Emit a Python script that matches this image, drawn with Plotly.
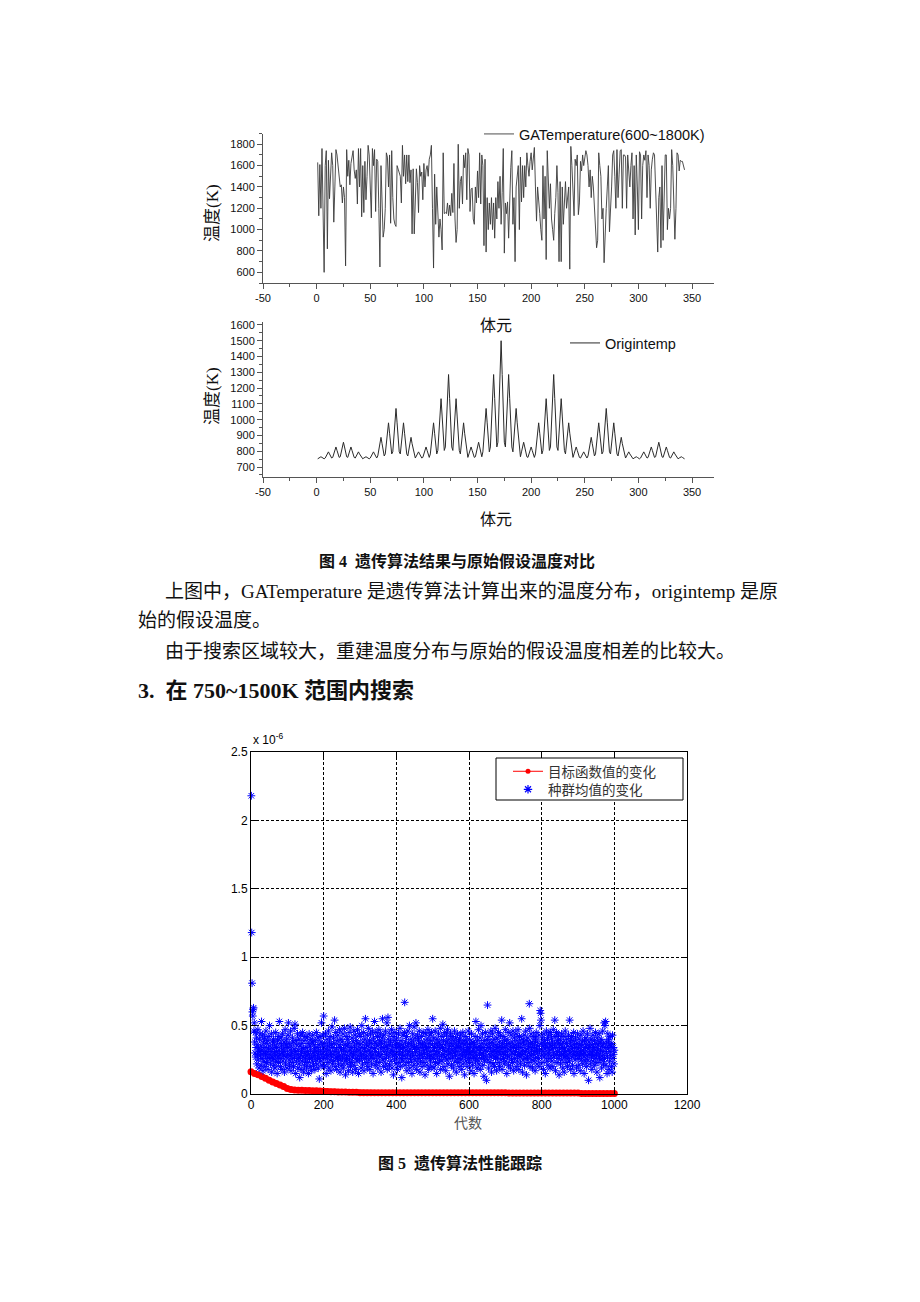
import plotly.graph_objects as go

W, H = 920, 1302

# ---------------- data: figure 4 (top) ----------------
GA_TEMP = [
    1630, 1130, 1610, 1200, 1760, 1250, 600, 1600, 1740, 820, 1650, 1290, 1500, 1720, 1600, 1070, 1400, 1750, 1700, 1600,
    1430, 1400, 1420, 1250, 1400, 1300, 660, 1750, 1500, 1650, 1420, 1620, 1680, 1740, 1560, 1480, 1560, 1240, 1760, 1400,
    1760, 1120, 1600, 1160, 1640, 1280, 1500, 1790, 1700, 1400, 1110, 1760, 1600, 1750, 1170, 1660, 1640, 1200, 650, 1600,
    1200, 930, 1000, 1200, 1720, 1680, 1400, 1700, 1060, 1740, 1300, 1100, 1050, 1030, 1600, 1560, 1540, 1500, 1250, 1790,
    1500, 1700, 1430, 1700, 1450, 1700, 1440, 1560, 960, 1570, 960, 1400, 1570, 1440, 1160, 1600, 1500, 1540, 1280, 1620,
    1400, 1560, 1600, 1500, 1660, 1700, 1790, 1200, 640, 1520, 1050, 1400, 1100, 930, 1100, 1000, 810, 1720, 1150, 1160,
    1150, 1250, 1130, 1230, 1130, 1340, 1160, 1620, 1100, 880, 1000, 1800, 1200, 1450, 1500, 1240, 1700, 1580, 1720, 1280,
    1760, 1700, 1170, 1380, 1390, 1100, 1050, 1400, 1250, 1550, 1300, 1720, 1240, 1700, 1600, 850, 1660, 790, 1300, 1000,
    1250, 1050, 1300, 1000, 1250, 920, 1300, 1100, 1450, 1200, 1500, 1050, 1350, 1760, 780, 1250, 1150, 1260, 920, 1400,
    1580, 1740, 1050, 1300, 700, 1400, 1500, 1600, 1000, 1680, 1260, 1600, 1300, 1600, 1400, 1720, 1600, 1500, 1640, 1720,
    1560, 1700, 1770, 1400, 1080, 1400, 1300, 1150, 1000, 900, 1600, 1100, 1500, 720, 1740, 1350, 1200, 1430, 1100, 1000,
    900, 1150, 1300, 1600, 1350, 700, 1450, 700, 1400, 1050, 1300, 1450, 1200, 1350, 1400, 630, 1780, 1600, 1300, 1130,
    1660, 1600, 1700, 1140, 1250, 1640, 1550, 1700, 1600, 1700, 1740, 1700, 1600, 1400, 1560, 1300, 1500, 1400, 1200, 1000,
    830, 900, 1720, 1600, 1500, 1100, 1200, 690, 1080, 1200, 1400, 1600, 980, 1300, 1400, 1700, 1740, 1500, 1200, 1750,
    1300, 1520, 1740, 1750, 1200, 1700, 1700, 1680, 1200, 1700, 1500, 1400, 1600, 1720, 1100, 1600, 950, 1700, 1400, 1000,
    1730, 1700, 1100, 1600, 1700, 1650, 1740, 1300, 1700, 1600, 1200, 1560, 1660, 1720, 1700, 1400, 1200, 790, 1300, 1400,
    830, 1600, 900, 1300, 1700, 1700, 1000, 1200, 1100, 1200, 1750, 1600, 1300, 910, 1200, 1720, 1700, 1550, 1650, 1640,
    1640, 1600, 1560,
]

# ---------------- data: figure 4 (bottom) ----------------
ORIGIN_TEMP = [
    752, 757, 761, 765, 761, 757, 752,
    757, 770, 783, 796, 783, 770, 757,
    761, 783, 805, 827, 805, 783, 761,
    765, 796, 827, 857, 827, 796, 765,
    761, 783, 805, 827, 805, 783, 761,
    757, 770, 783, 796, 783, 770, 757,
    752, 757, 761, 765, 761, 757, 752,

    757, 770, 783, 796, 783, 770, 757,
    770, 809, 848, 888, 848, 809, 770,
    783, 848, 914, 980, 914, 848, 783,
    796, 888, 980, 1071, 980, 888, 796,
    783, 848, 914, 980, 914, 848, 783,
    770, 809, 848, 888, 848, 809, 770,
    757, 770, 783, 796, 783, 770, 757,

    761, 783, 805, 827, 805, 783, 761,
    783, 848, 914, 980, 914, 848, 783,
    805, 914, 1023, 1133, 1023, 914, 805,
    827, 980, 1133, 1286, 1133, 980, 827,
    805, 914, 1023, 1133, 1023, 914, 805,
    783, 848, 914, 980, 914, 848, 783,
    761, 783, 805, 827, 805, 783, 761,

    765, 796, 827, 857, 827, 796, 765,
    796, 888, 980, 1071, 980, 888, 796,
    827, 980, 1133, 1286, 1133, 980, 827,
    857, 1071, 1286, 1500, 1286, 1071, 857,
    827, 980, 1133, 1286, 1133, 980, 827,
    796, 888, 980, 1071, 980, 888, 796,
    765, 796, 827, 857, 827, 796, 765,

    761, 783, 805, 827, 805, 783, 761,
    783, 848, 914, 980, 914, 848, 783,
    805, 914, 1023, 1133, 1023, 914, 805,
    827, 980, 1133, 1286, 1133, 980, 827,
    805, 914, 1023, 1133, 1023, 914, 805,
    783, 848, 914, 980, 914, 848, 783,
    761, 783, 805, 827, 805, 783, 761,

    757, 770, 783, 796, 783, 770, 757,
    770, 809, 848, 888, 848, 809, 770,
    783, 848, 914, 980, 914, 848, 783,
    796, 888, 980, 1071, 980, 888, 796,
    783, 848, 914, 980, 914, 848, 783,
    770, 809, 848, 888, 848, 809, 770,
    757, 770, 783, 796, 783, 770, 757,

    752, 757, 761, 765, 761, 757, 752,
    757, 770, 783, 796, 783, 770, 757,
    761, 783, 805, 827, 805, 783, 761,
    765, 796, 827, 857, 827, 796, 765,
    761, 783, 805, 827, 805, 783, 761,
    757, 770, 783, 796, 783, 770, 757,
    752, 757, 761, 765, 761, 757, 752,
]

VOXEL_TICKS = [-50, 0, 50, 100, 150, 200, 250, 300, 350]
VOXEL_TICK_LABELS = ["-50", "0", "50", "100", "150", "200", "250", "300", "350"]

# ---------------- data: figure 5 (x 10^-6) ----------------
OBJ_GEN = list(range(0, 1001, 10))
OBJ_VALUE = [
    0.163, 0.150, 0.140, 0.128, 0.115, 0.100, 0.088, 0.076, 0.066, 0.055,
    0.040, 0.033, 0.030, 0.028, 0.027, 0.026, 0.025, 0.024, 0.023, 0.022,
    0.021, 0.019, 0.017, 0.016, 0.015, 0.015, 0.014, 0.013, 0.013, 0.012,
    0.010, 0.010, 0.010, 0.010, 0.010, 0.010, 0.010, 0.010, 0.010, 0.010,
    0.010, 0.010, 0.010, 0.010, 0.010, 0.010, 0.010, 0.010, 0.010, 0.010,
    0.010, 0.009, 0.009, 0.009, 0.009, 0.009, 0.009, 0.009, 0.009, 0.009,
    0.009, 0.009, 0.009, 0.009, 0.009, 0.009, 0.009, 0.009, 0.009, 0.009,
    0.009, 0.008, 0.008, 0.008, 0.008, 0.008, 0.008, 0.008, 0.008, 0.008,
    0.008, 0.008, 0.008, 0.008, 0.008, 0.008, 0.008, 0.008, 0.008, 0.008,
    0.008, 0.004, 0.004, 0.004, 0.003, 0.003, 0.003, 0.003, 0.003, 0.003,
    0.003,
]

POP_GEN = list(range(1, 1001))
POP_MEAN = [
    2.18, 1.18, 0.81, 0.60, 0.57, 0.62, 0.63, 0.46, 0.52, 0.38, 0.30, 0.45, 0.27, 0.34, 0.41, 0.22, 0.36, 0.29, 0.47, 0.25, 0.33, 0.19, 0.40, 0.31, 0.44,
    0.28, 0.35, 0.21, 0.53, 0.32, 0.26, 0.43, 0.17, 0.38, 0.30, 0.24, 0.41, 0.34, 0.20, 0.29, 0.46, 0.37, 0.23, 0.31, 0.27, 0.39, 0.18, 0.33, 0.42, 0.26,
    0.50, 0.29, 0.35, 0.22, 0.31, 0.44, 0.16, 0.27, 0.38, 0.33, 0.25, 0.40, 0.21, 0.30, 0.36, 0.19, 0.28, 0.45, 0.24, 0.34, 0.31, 0.15, 0.39, 0.27, 0.42,
    0.23, 0.32, 0.53, 0.29, 0.37, 0.20, 0.26, 0.41, 0.35, 0.18, 0.30, 0.44, 0.24, 0.33, 0.28, 0.38, 0.16, 0.31, 0.47, 0.22, 0.36, 0.27, 0.40, 0.19, 0.34,
    0.29, 0.43, 0.52, 0.25, 0.37, 0.21, 0.32, 0.28, 0.46, 0.17, 0.35, 0.30, 0.23, 0.41, 0.26, 0.38, 0.20, 0.33, 0.48, 0.27, 0.51, 0.31, 0.15, 0.39, 0.24,
    0.36, 0.29, 0.44, 0.19, 0.32, 0.26, 0.40, 0.22, 0.12, 0.35, 0.28, 0.43, 0.18, 0.31, 0.37, 0.24, 0.45, 0.27, 0.33, 0.16, 0.39, 0.21, 0.30, 0.42, 0.25,
    0.34, 0.28, 0.19, 0.41, 0.31, 0.23, 0.37, 0.15, 0.29, 0.44, 0.26, 0.35, 0.20, 0.32, 0.40, 0.17, 0.27, 0.38, 0.24, 0.43, 0.30, 0.21, 0.36, 0.28, 0.33,
    0.18, 0.39, 0.25, 0.31, 0.45, 0.22, 0.34, 0.27, 0.41, 0.19, 0.30, 0.36, 0.11, 0.26, 0.42, 0.32, 0.24, 0.38, 0.52, 0.29, 0.21, 0.35, 0.43, 0.27, 0.57,
    0.31, 0.20, 0.37, 0.26, 0.44, 0.33, 0.15, 0.29, 0.40, 0.23, 0.35, 0.28, 0.46, 0.19, 0.32, 0.38, 0.25, 0.42, 0.30, 0.17, 0.36, 0.27, 0.49, 0.22, 0.34,
    0.29, 0.41, 0.24, 0.37, 0.54, 0.31, 0.20, 0.45, 0.27, 0.33, 0.18, 0.39, 0.26, 0.43, 0.30, 0.22, 0.36, 0.28, 0.47, 0.16, 0.34, 0.25, 0.40, 0.32, 0.21,
    0.38, 0.27, 0.44, 0.19, 0.33, 0.29, 0.48, 0.24, 0.36, 0.14, 0.31, 0.42, 0.26, 0.35, 0.22, 0.40, 0.28, 0.17, 0.37, 0.45, 0.25, 0.32, 0.49, 0.20, 0.30,
    0.34, 0.23, 0.41, 0.27, 0.16, 0.38, 0.29, 0.46, 0.21, 0.35, 0.31, 0.43, 0.18, 0.26, 0.39, 0.33, 0.24, 0.47, 0.28, 0.37, 0.15, 0.32, 0.44, 0.25, 0.36,
    0.30, 0.42, 0.19, 0.27, 0.50, 0.34, 0.22, 0.38, 0.29, 0.45, 0.17, 0.33, 0.26, 0.40, 0.55, 0.31, 0.23, 0.36, 0.28, 0.43, 0.20, 0.35, 0.48, 0.25, 0.32,
    0.39, 0.18, 0.30, 0.44, 0.27, 0.37, 0.22, 0.34, 0.46, 0.29, 0.15, 0.41, 0.26, 0.33, 0.53, 0.38, 0.21, 0.31, 0.45, 0.24, 0.36, 0.28, 0.42, 0.19, 0.35,
    0.30, 0.47, 0.23, 0.39, 0.27, 0.44, 0.33, 0.16, 0.37, 0.29, 0.41, 0.55, 0.25, 0.34, 0.20, 0.43, 0.31, 0.38, 0.26, 0.46, 0.22, 0.35, 0.29, 0.52, 0.18,
    0.33, 0.56, 0.40, 0.27, 0.36, 0.21, 0.44, 0.30, 0.38, 0.24, 0.32, 0.47, 0.19, 0.35, 0.28, 0.42, 0.14, 0.31, 0.39, 0.25, 0.45, 0.29, 0.36, 0.22, 0.34,
    0.41, 0.27, 0.18, 0.37, 0.31, 0.44, 0.23, 0.35, 0.29, 0.48, 0.20, 0.33, 0.39, 0.26, 0.12, 0.36, 0.30, 0.43, 0.24, 0.34, 0.28, 0.45, 0.67, 0.21, 0.38,
    0.32, 0.26, 0.42, 0.17, 0.35, 0.29, 0.46, 0.23, 0.37, 0.31, 0.50, 0.19, 0.33, 0.27, 0.40, 0.24, 0.36, 0.15, 0.30, 0.44, 0.28, 0.38, 0.21, 0.49, 0.34,
    0.25, 0.41, 0.31, 0.52, 0.18, 0.35, 0.28, 0.43, 0.22, 0.33, 0.39, 0.26, 0.46, 0.30, 0.16, 0.37, 0.24, 0.34, 0.42, 0.29, 0.20, 0.36, 0.27, 0.45, 0.32,
    0.23, 0.38, 0.30, 0.14, 0.35, 0.44, 0.26, 0.33, 0.40, 0.21, 0.29, 0.47, 0.34, 0.18, 0.37, 0.27, 0.43, 0.31, 0.24, 0.39, 0.28, 0.45, 0.20, 0.36, 0.55,
    0.32, 0.26, 0.41, 0.19, 0.34, 0.29, 0.46, 0.23, 0.37, 0.31, 0.15, 0.40, 0.27, 0.35, 0.22, 0.44, 0.30, 0.38, 0.25, 0.33, 0.48, 0.18, 0.36, 0.28, 0.42,
    0.24, 0.34, 0.51, 0.29, 0.39, 0.20, 0.32, 0.45, 0.27, 0.36, 0.17, 0.31, 0.43, 0.25, 0.38, 0.47, 0.22, 0.33, 0.29, 0.40, 0.13, 0.35, 0.26, 0.44, 0.30,
    0.37, 0.21, 0.32, 0.42, 0.27, 0.35, 0.19, 0.39, 0.30, 0.46, 0.24, 0.33, 0.28, 0.41, 0.16, 0.36, 0.31, 0.44, 0.23, 0.34, 0.38, 0.26, 0.20, 0.40, 0.29,
    0.35, 0.43, 0.25, 0.32, 0.18, 0.37, 0.28, 0.45, 0.22, 0.33, 0.39, 0.30, 0.14, 0.36, 0.27, 0.42, 0.24, 0.31, 0.38, 0.20, 0.34, 0.29, 0.46, 0.26, 0.32,
    0.40, 0.23, 0.35, 0.29, 0.17, 0.37, 0.44, 0.26, 0.31, 0.21, 0.38, 0.33, 0.27, 0.15, 0.36, 0.30, 0.42, 0.24, 0.53, 0.34, 0.28, 0.19, 0.39, 0.25, 0.32,
    0.47, 0.22, 0.35, 0.29, 0.41, 0.18, 0.33, 0.50, 0.26, 0.37, 0.30, 0.44, 0.21, 0.34, 0.28, 0.13, 0.39, 0.24, 0.32, 0.45, 0.27, 0.36, 0.10, 0.31, 0.40,
    0.65, 0.25, 0.34, 0.19, 0.42, 0.29, 0.37, 0.23, 0.33, 0.46, 0.27, 0.16, 0.38, 0.31, 0.44, 0.22, 0.35, 0.28, 0.40, 0.20, 0.32, 0.48, 0.26, 0.36, 0.30,
    0.17, 0.41, 0.27, 0.34, 0.23, 0.45, 0.31, 0.38, 0.20, 0.35, 0.29, 0.43, 0.25, 0.33, 0.54, 0.18, 0.37, 0.30, 0.42, 0.26, 0.34, 0.22, 0.39, 0.29, 0.47,
    0.31, 0.24, 0.36, 0.15, 0.40, 0.28, 0.33, 0.45, 0.21, 0.37, 0.27, 0.52, 0.32, 0.19, 0.35, 0.43, 0.25, 0.30, 0.38, 0.23, 0.46, 0.34, 0.17, 0.29, 0.41,
    0.26, 0.36, 0.31, 0.44, 0.20, 0.33, 0.39, 0.24, 0.28, 0.47, 0.35, 0.18, 0.30, 0.42, 0.27, 0.37, 0.22, 0.34, 0.29, 0.55, 0.40, 0.16, 0.32, 0.25, 0.38,
    0.43, 0.29, 0.21, 0.36, 0.31, 0.46, 0.26, 0.14, 0.39, 0.33, 0.27, 0.41, 0.23, 0.35, 0.30, 0.66, 0.48, 0.20, 0.37, 0.28, 0.44, 0.32, 0.25, 0.38, 0.19,
    0.34, 0.29, 0.42, 0.24, 0.36, 0.31, 0.17, 0.40, 0.27, 0.45, 0.33, 0.22, 0.38, 0.30, 0.35, 0.26, 0.43, 0.20, 0.32, 0.50, 0.61, 0.59, 0.54, 0.28, 0.37,
    0.23, 0.41, 0.31, 0.35, 0.18, 0.44, 0.27, 0.39, 0.33, 0.15, 0.36, 0.29, 0.46, 0.24, 0.34, 0.40, 0.21, 0.30, 0.43, 0.26, 0.37, 0.32, 0.19, 0.45, 0.28,
    0.35, 0.41, 0.24, 0.33, 0.38, 0.20, 0.47, 0.30, 0.27, 0.36, 0.54, 0.42, 0.17, 0.34, 0.29, 0.45, 0.23, 0.39, 0.31, 0.26, 0.43, 0.37, 0.14, 0.33, 0.28,
    0.40, 0.22, 0.36, 0.30, 0.44, 0.25, 0.34, 0.19, 0.38, 0.29, 0.42, 0.16, 0.33, 0.27, 0.46, 0.31, 0.23, 0.37, 0.28, 0.40, 0.20, 0.35, 0.26, 0.43, 0.32,
    0.24, 0.54, 0.30, 0.38, 0.18, 0.35, 0.42, 0.27, 0.33, 0.21, 0.39, 0.29, 0.45, 0.15, 0.36, 0.31, 0.25, 0.41, 0.28, 0.34, 0.19, 0.37, 0.30, 0.44, 0.26,
    0.33, 0.21, 0.40, 0.28, 0.36, 0.17, 0.31, 0.43, 0.25, 0.35, 0.29, 0.38, 0.22, 0.46, 0.32, 0.27, 0.15, 0.39, 0.30, 0.24, 0.34, 0.41, 0.20, 0.36, 0.28,
    0.44, 0.25, 0.33, 0.10, 0.38, 0.29, 0.35, 0.48, 0.22, 0.31, 0.40, 0.27, 0.18, 0.36, 0.30, 0.43, 0.24, 0.34, 0.28, 0.39, 0.21, 0.32, 0.45, 0.26, 0.37,
    0.29, 0.16, 0.41, 0.33, 0.23, 0.36, 0.30, 0.44, 0.27, 0.12, 0.38, 0.32, 0.25, 0.40, 0.19, 0.35, 0.28, 0.46, 0.31, 0.22, 0.37, 0.52, 0.26, 0.50, 0.34,
    0.53, 0.21, 0.30, 0.38, 0.15, 0.27, 0.44, 0.33, 0.40, 0.18, 0.36, 0.24, 0.31, 0.42, 0.28, 0.35, 0.20, 0.37, 0.16, 0.43, 0.26, 0.34, 0.29, 0.22, 0.32,
]

GEN_TICKS = [0, 200, 400, 600, 800, 1000, 1200]
GEN_TICK_LABELS = ["0", "200", "400", "600", "800", "1000", "1200"]
FIT_TICKS = [0, 0.5, 1, 1.5, 2, 2.5]
FIT_TICK_LABELS = ["0", "0.5", "1", "1.5", "2", "2.5"]

# ---------------- helpers ----------------
OFF = 8  # page offset of the plot div (default body margin)

def px(x):
    return (x - OFF) / W

def py(y):
    return 1 - (y - OFF) / H

SANS = "Liberation Sans, Arial, Noto Sans CJK SC"
SERIF = "Liberation Serif, Noto Sans CJK SC"
CJK = "Noto Sans CJK SC"
AX = "#555555"

fig = go.Figure()

voxel_ga = list(range(1, len(GA_TEMP) + 1))
voxel_or = list(range(1, len(ORIGIN_TEMP) + 1))

fig.add_trace(go.Scatter(
    x=voxel_ga, y=GA_TEMP, mode="lines", name="GATemperature(600~1800K)",
    line=dict(color="#3a3a3a", width=0.9), xaxis="x", yaxis="y", legend="legend"))

fig.add_trace(go.Scatter(
    x=voxel_or, y=ORIGIN_TEMP, mode="lines", name="Origintemp",
    line=dict(color="#2a2a2a", width=1), xaxis="x2", yaxis="y2", legend="legend2"))

# figure 5 data
fig.add_trace(go.Scatter(
    x=OBJ_GEN, y=OBJ_VALUE, mode="lines+markers", showlegend=False,
    line=dict(color="#ff0000", width=5), marker=dict(color="#ff0000", size=7),
    xaxis="x3", yaxis="y3", cliponaxis=False))
fig.add_trace(go.Scatter(
    x=POP_GEN, y=POP_MEAN, mode="markers", showlegend=False,
    marker=dict(symbol="asterisk-open", size=6.5, color="#0000ff",
                line=dict(color="#0000ff", width=1.0)),
    xaxis="x3", yaxis="y3", cliponaxis=False))
# legend entries for figure 5
fig.add_trace(go.Scatter(
    x=[None], y=[None], mode="lines+markers", name="目标函数值的变化",
    line=dict(color="#ff0000", width=1), marker=dict(color="#ff0000", size=5),
    xaxis="x3", yaxis="y3", legend="legend3"))
fig.add_trace(go.Scatter(
    x=[None], y=[None], mode="markers", name="种群均值的变化",
    marker=dict(symbol="asterisk-open", size=7, color="#0000ff",
                line=dict(color="#0000ff", width=1.2)),
    xaxis="x3", yaxis="y3", legend="legend4"))

origin_x = dict(
    range=[-50, 370], tickmode="array", tickvals=VOXEL_TICKS, ticktext=VOXEL_TICK_LABELS,
    showline=True, linecolor=AX, linewidth=1, ticks="outside", ticklen=5, tickcolor=AX,
    minor=dict(dtick=25, tick0=0, ticks="outside", ticklen=3, tickcolor=AX),
    showgrid=False, zeroline=False, tickfont=dict(family=SANS, size=11, color="#111"),
    domain=[px(263), px(713.5)], automargin=False,
)

legend_common = dict(xanchor="left", yanchor="top", bgcolor="rgba(0,0,0,0)", borderwidth=0)

layout = dict(
    width=W, height=H, margin=dict(l=0, r=0, t=0, b=0, pad=0, autoexpand=False),
    paper_bgcolor="white", plot_bgcolor="white", showlegend=True,
    xaxis=dict(origin_x, anchor="y"),
    yaxis=dict(
        range=[500, 1900], tick0=600, dtick=200, domain=[py(283), py(133.6)], anchor="x",
        showline=True, linecolor=AX, linewidth=1, ticks="outside", ticklen=5, tickcolor=AX,
        minor=dict(dtick=100, ticks="outside", ticklen=3, tickcolor=AX), automargin=False,
        showgrid=False, zeroline=False, tickfont=dict(family=SANS, size=11, color="#111")),
    xaxis2=dict(origin_x, anchor="y2"),
    yaxis2=dict(
        range=[640, 1620], tick0=0, dtick=100, domain=[py(476.5), py(321.8)], anchor="x2",
        showline=True, linecolor=AX, linewidth=1, ticks="outside", ticklen=5, tickcolor=AX,
        minor=dict(dtick=50, ticks="outside", ticklen=3, tickcolor=AX), automargin=False,
        showgrid=False, zeroline=False, tickfont=dict(family=SANS, size=11, color="#111")),
    xaxis3=dict(
        range=[0, 1200], tickmode="array", tickvals=GEN_TICKS, ticktext=GEN_TICK_LABELS,
        domain=[px(251), px(687)], anchor="y3", automargin=False,
        showline=True, mirror="ticks", linecolor="black", linewidth=1,
        ticks="inside", ticklen=5, tickcolor="black",
        showgrid=True, gridcolor="black", gridwidth=1, griddash="3px,2px", zeroline=False,
        tickfont=dict(family=SANS, size=12, color="black")),
    yaxis3=dict(
        range=[0, 2.5], tickmode="array", tickvals=FIT_TICKS, ticktext=FIT_TICK_LABELS,
        domain=[py(1094), py(752)], anchor="x3", automargin=False,
        showline=True, mirror="ticks", linecolor="black", linewidth=1,
        ticks="inside", ticklen=5, tickcolor="black",
        showgrid=True, gridcolor="black", gridwidth=1, griddash="3px,2px", zeroline=False,
        tickfont=dict(family=SANS, size=12, color="black")),
    legend=dict(legend_common, x=px(479), y=py(118),
                font=dict(family=SANS, size=14.5, color="#111")),
    legend2=dict(legend_common, x=px(565), y=py(327),
                 font=dict(family=SANS, size=14.5, color="#111")),
    legend3=dict(legend_common, x=px(508), y=py(756),
                 font=dict(family=CJK, size=13.5, color="#333")),
    legend4=dict(legend_common, x=px(508), y=py(774),
                 font=dict(family=CJK, size=13.5, color="#333")),
    shapes=[dict(type="rect", xref="paper", yref="paper",
                 x0=px(496), x1=px(683), y0=py(800), y1=py(758),
                 line=dict(color="black", width=1), fillcolor="white", layer="above")],
)
fig.update_layout(**layout)

annotations = [
    dict(text="体元", x=px(496), y=py(326), font=dict(family=SERIF, size=16, color="#111")),
    dict(text="体元", x=px(496), y=py(519), font=dict(family=SERIF, size=16, color="#111")),
    dict(text="温度(K)", x=px(212), y=py(213), textangle=-90, font=dict(family=SERIF, size=17, color="#111")),
    dict(text="温度(K)", x=px(212), y=py(396), textangle=-90, font=dict(family=SERIF, size=17, color="#111")),
    dict(text="<b>图 4  遗传算法结果与原始假设温度对比</b>", x=px(457), y=py(561),
         font=dict(family=SERIF, size=16, color="#111")),
    dict(text="上图中，GATemperature 是遗传算法计算出来的温度分布，origintemp 是原", x=px(163), y=py(591),
         xanchor="left", font=dict(family=SERIF, size=19, color="#111")),
    dict(text="始的假设温度。", x=px(136), y=py(620), xanchor="left",
         font=dict(family=SERIF, size=19, color="#111")),
    dict(text="由于搜索区域较大，重建温度分布与原始的假设温度相差的比较大。", x=px(163), y=py(651),
         xanchor="left", font=dict(family=SERIF, size=19, color="#111")),
    dict(text="<b>3.  在 750~1500K 范围内搜索</b>", x=px(136), y=py(690), xanchor="left",
         font=dict(family=SERIF, size=22, color="#111")),
    dict(text="x 10<sup>-6</sup>", x=px(251), y=py(739), xanchor="left",
         font=dict(family=SANS, size=12, color="black")),
    dict(text="代数", x=px(468), y=py(1122), font=dict(family=CJK, size=14, color="#555")),
    dict(text="<b>图 5  遗传算法性能跟踪</b>", x=px(460), y=py(1163),
         font=dict(family=SERIF, size=16, color="#111")),
]
for a in annotations:
    a.setdefault("xanchor", "center")
    a.setdefault("yanchor", "middle")
    a["xref"] = "paper"
    a["yref"] = "paper"
    a["showarrow"] = False
fig.update_layout(annotations=annotations)

fig.write_html("out.html")
